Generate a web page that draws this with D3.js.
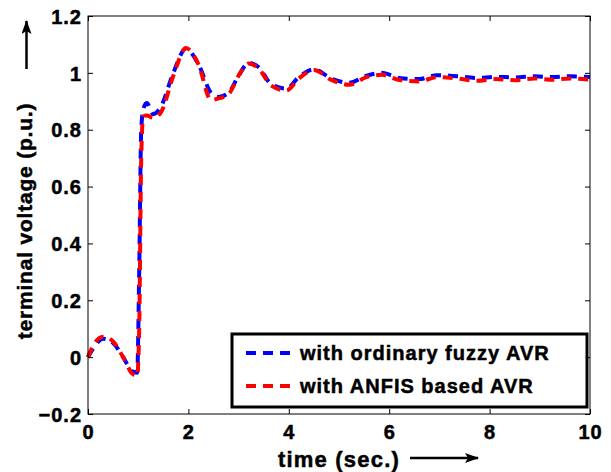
<!DOCTYPE html>
<html>
<head>
<meta charset="utf-8">
<script src="https://cdn.jsdelivr.net/npm/d3@7"></script>
<style>
  body { margin: 0; background: #fff; }
  text { font-family: "Liberation Sans", Arial, sans-serif; font-weight: bold; stroke: #000; stroke-width: 0.5px; }
</style>
</head>
<body>
<svg width="611" height="472"></svg>
<script>
// data
let timeVals = [0, 0.1, 0.3, 0.5, 0.7, 0.88, 0.98, 1.02, 1.06, 1.1, 1.17, 1.3, 1.45, 1.7, 1.95, 2.2, 2.45, 2.6, 2.8, 3.0, 3.2, 3.4, 3.65, 3.95, 4.2, 4.5, 4.85, 5.2, 5.55, 5.85, 6.2, 6.6, 6.95, 7.35, 7.75, 8.1, 8.5, 8.9, 9.25, 9.6, 10];
let fuzzyVals = [0, 0.03, 0.065, 0.05, 0.0, -0.05, -0.055, 0.3, 0.8, 0.87, 0.894, 0.855, 0.88, 1.0, 1.085, 1.03, 0.93, 0.915, 0.93, 0.99, 1.035, 1.02, 0.96, 0.945, 0.985, 1.012, 0.98, 0.965, 0.99, 1.0, 0.982, 0.978, 0.992, 0.988, 0.982, 0.986, 0.984, 0.988, 0.985, 0.988, 0.985];
let anfisVals = [0, 0.04, 0.072, 0.055, 0.0, -0.058, -0.066, 0.1, 0.7, 0.846, 0.85, 0.842, 0.86, 0.99, 1.087, 1.03, 0.905, 0.91, 0.925, 0.99, 1.033, 1.015, 0.955, 0.938, 0.98, 1.01, 0.975, 0.958, 0.985, 0.993, 0.975, 0.97, 0.985, 0.98, 0.972, 0.978, 0.974, 0.98, 0.976, 0.98, 0.976];
let xTicks = [0, 2, 4, 6, 8, 10];
let yTicks = [-0.2, 0, 0.2, 0.4, 0.6, 0.8, 1, 1.2];
let seriesNames = ['with ordinary fuzzy AVR', 'with ANFIS based AVR'];
let seriesColors = ['#0000ff', '#ff0000'];

function main() {
    let svg = d3.select('svg'),
        margin = { top: 16, bottom: 58, left: 88, right: 21 },
        width = svg.attr('width') - margin.left - margin.right,
        height = svg.attr('height') - margin.top - margin.bottom;

    let xScale = d3.scaleLinear().domain([0, 10]).range([margin.left, margin.left + width]),
        yScale = d3.scaleLinear().domain([-0.2, 1.2]).range([margin.top + height, margin.top]);

    // arrowhead
    svg.append('defs').append('marker')
        .attr('id', 'arrow')
        .attr('viewBox', '0 0 14 10')
        .attr('refX', 13).attr('refY', 5)
        .attr('markerWidth', 14).attr('markerHeight', 10)
        .attr('markerUnits', 'userSpaceOnUse')
        .attr('orient', 'auto')
        .append('path')
        .attr('d', 'M0,0 L14,5 L0,10 L3,5 Z')
        .attr('fill', '#000');

    // lines
    let series = [fuzzyVals, anfisVals];
    let line = d3.line()
        .x((d, i) => xScale(timeVals[i]))
        .y((d) => yScale(d))
        .curve(d3.curveMonotoneX);

    series.forEach((vals, k) => {
        svg.append('path')
            .datum(vals)
            .attr('d', line)
            .attr('fill', 'none')
            .attr('stroke', seriesColors[k])
            .attr('stroke-width', 4)
            .attr('stroke-dasharray', '10,7');
    });

    // frame
    svg.append('rect')
        .attr('x', margin.left).attr('y', margin.top)
        .attr('width', width).attr('height', height)
        .attr('fill', 'none').attr('stroke', '#000').attr('stroke-width', 1);

    // X Axis
    let xAxis = svg.append('g')
        .attr('transform', 'translate(0,' + (margin.top + height) + ')')
        .call(d3.axisBottom(xScale).tickValues(xTicks).tickSizeInner(-5).tickSizeOuter(0).tickPadding(10));
    let xTop = svg.append('g')
        .attr('transform', 'translate(0,' + margin.top + ')')
        .call(d3.axisTop(xScale).tickValues(xTicks).tickSizeInner(-5).tickSizeOuter(0).tickFormat(''));

    // Y Axis
    let yAxis = svg.append('g')
        .attr('transform', 'translate(' + margin.left + ',0)')
        .call(d3.axisLeft(yScale).tickValues(yTicks).tickSizeInner(-5).tickSizeOuter(0).tickPadding(6)
            .tickFormat((d) => d3.format('')(+d.toFixed(1)).replace('-', '\u2212')));
    let yRight = svg.append('g')
        .attr('transform', 'translate(' + (margin.left + width) + ',0)')
        .call(d3.axisRight(yScale).tickValues(yTicks).tickSizeInner(-5).tickSizeOuter(0).tickFormat(''));

    [xAxis, xTop, yAxis, yRight].forEach((g) => {
        g.select('.domain').remove();
        g.selectAll('line').attr('stroke', '#000');
        g.selectAll('text').attr('fill', '#000')
            .style('font-size', '20px').style('letter-spacing', '1px');
    });
    yAxis.selectAll('text').attr('dy', '0.36em');
    xAxis.selectAll('text').attr('dy', '0.75em');

    // axis titles
    svg.append('text')
        .attr('x', 339).attr('y', 467)
        .attr('text-anchor', 'middle')
        .style('font-size', '22px').style('letter-spacing', '1.2px')
        .text('time (sec.)');
    svg.append('line')
        .attr('x1', 410).attr('y1', 458).attr('x2', 478).attr('y2', 458)
        .attr('stroke', '#000').attr('stroke-width', 2.5)
        .attr('marker-end', 'url(#arrow)');

    svg.append('text')
        .attr('transform', 'translate(32,221) rotate(-90)')
        .attr('text-anchor', 'middle')
        .style('font-size', '21px').style('letter-spacing', '0.8px')
        .text('terminal voltage (p.u.)');
    svg.append('line')
        .attr('x1', 26.5).attr('y1', 69).attr('x2', 26.5).attr('y2', 21)
        .attr('stroke', '#000').attr('stroke-width', 2.5)
        .attr('marker-end', 'url(#arrow)');

    // Legend
    let legend = svg.append('g');
    legend.append('rect')
        .attr('x', 232).attr('y', 334)
        .attr('width', 355).attr('height', 73)
        .attr('fill', '#fff').attr('stroke', '#000').attr('stroke-width', 3);
    seriesNames.forEach((name, k) => {
        let y = 353 + k * 33;
        legend.append('line')
            .attr('x1', 246).attr('x2', 290).attr('y1', y).attr('y2', y)
            .attr('stroke', seriesColors[k]).attr('stroke-width', 4)
            .attr('stroke-dasharray', '10,7');
        legend.append('text')
            .attr('x', 300).attr('y', y + 7)
            .style('font-size', '20px').style('letter-spacing', '1px')
            .text(name);
    });
}

main();
</script>
</body>
</html>
